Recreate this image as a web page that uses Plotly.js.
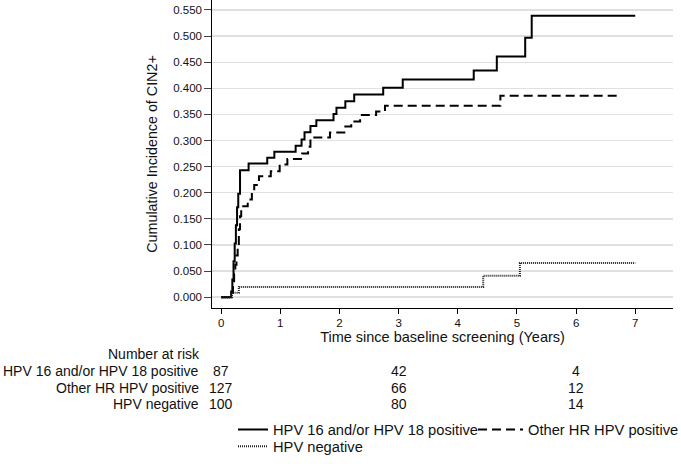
<!DOCTYPE html>
<html>
<head>
<meta charset="utf-8">
<script src="https://cdn.plot.ly/plotly-3.0.1.min.js"></script>
<style>html,body{margin:0;padding:0;background:#fff;}#chart{width:681px;height:464px;}</style>
</head>
<body>
<div id="chart"></div>
<script>
// ---- Data ----
const groupNames = ["HPV 16 and/or HPV 18 positive", "Other HR HPV positive", "HPV negative"];

const timeHPV1618 = [0, 0.17, 0.19, 0.21, 0.23, 0.25, 0.27, 0.29, 0.32, 0.465, 0.78, 0.90, 1.26, 1.36, 1.41, 1.51, 1.61, 1.90, 1.95, 2.10, 2.25, 2.74, 3.07, 4.27, 4.66, 5.14, 5.25, 7.0];
const cumHPV1618  = [0, 0.011, 0.034, 0.069, 0.103, 0.138, 0.172, 0.198, 0.243, 0.256, 0.267, 0.2785, 0.290, 0.302, 0.316, 0.3276, 0.339, 0.351, 0.363, 0.375, 0.388, 0.401, 0.417, 0.434, 0.461, 0.497, 0.539, 0.539];

const timeOtherHR = [0, 0.18, 0.20, 0.22, 0.24, 0.26, 0.28, 0.30, 0.32, 0.34, 0.45, 0.52, 0.56, 0.64, 0.84, 0.99, 1.12, 1.37, 1.47, 1.51, 1.84, 2.10, 2.20, 2.35, 2.62, 2.77, 4.72, 6.69];
const cumOtherHR  = [0, 0.008, 0.025, 0.045, 0.062, 0.08, 0.10, 0.13, 0.155, 0.174, 0.187, 0.20, 0.215, 0.2314, 0.241, 0.254, 0.2646, 0.275, 0.288, 0.306, 0.3156, 0.327, 0.3365, 0.349, 0.3556, 0.3665, 0.3857, 0.3857];

const timeNeg = [0, 0.184, 0.30, 4.43, 5.05, 7.0];
const cumNeg  = [0, 0.0086, 0.0197, 0.041, 0.0655, 0.0655];

const riskTimes   = [0, 3, 6];
const riskHPV1618 = [87, 42, 4];
const riskOtherHR = [127, 66, 12];
const riskNeg     = [100, 80, 14];
const riskTitle = "Number at risk";

const xTicks = [0, 1, 2, 3, 4, 5, 6, 7];

// ---- Chart ----
const FONT = "Liberation Sans, Arial, Helvetica, sans-serif";
const TXT = "#111";

const traces = [
  {x: timeHPV1618, y: cumHPV1618, name: groupNames[0], type: "scatter", mode: "lines",
   line: {shape: "hv", color: "#000", width: 2}, legend: "legend"},
  {x: timeOtherHR, y: cumOtherHR, name: groupNames[1], type: "scatter", mode: "lines",
   line: {shape: "hv", color: "#000", width: 2, dash: "9px,5px"}, legend: "legend2"},
  {x: timeNeg, y: cumNeg, name: groupNames[2], type: "scatter", mode: "lines",
   line: {shape: "hv", color: "#222", width: 2, dash: "1px,1px"}, legend: "legend3"}
];

const W = 681, H = 464;
const plotLeft = 211.7, plotRight = 673, plotTop = 0, plotBottom = 308.5;
function paperY(px) { return (plotBottom - px) / (plotBottom - plotTop); }
function paperX(px) { return (px - plotLeft) / (plotRight - plotLeft); }

const annotations = [];
annotations.push({xref: "paper", yref: "paper", x: paperX(201.5), y: paperY(355), text: riskTitle,
  showarrow: false, xanchor: "right", yanchor: "middle", font: {family: FONT, size: 14, color: TXT}});
const riskRows = [riskHPV1618, riskOtherHR, riskNeg];
const rowY = [371.7, 388.3, 405];
riskRows.forEach((row, r) => {
  annotations.push({xref: "paper", yref: "paper", x: paperX(200.5), y: paperY(rowY[r]), text: groupNames[r],
    showarrow: false, xanchor: "right", yanchor: "middle", font: {family: FONT, size: 14, color: TXT}});
  row.forEach((v, i) => {
    annotations.push({xref: "x", yref: "paper", x: riskTimes[i], y: paperY(rowY[r]), text: String(v),
      showarrow: false, xanchor: "center", yanchor: "middle", font: {family: FONT, size: 14, color: TXT}});
  });
});

const legendBase = {orientation: "h", xref: "container", yref: "container", xanchor: "left", yanchor: "middle",
  bgcolor: "rgba(0,0,0,0)", borderwidth: 0, font: {family: FONT, size: 14.7, color: TXT}};

const layout = {
  width: W, height: H,
  margin: {l: plotLeft, r: W - plotRight, t: plotTop, b: H - plotBottom, pad: 0, autoexpand: false},
  paper_bgcolor: "#fff", plot_bgcolor: "#fff",
  font: {family: FONT, color: TXT},
  showlegend: true,
  legend:  Object.assign({}, legendBase, {x: 233 / W, y: (H - 430) / H}),
  legend2: Object.assign({}, legendBase, {x: 473 / W, y: (H - 430) / H, itemwidth: 45}),
  legend3: Object.assign({}, legendBase, {x: 233 / W, y: (H - 446.7) / H}),
  xaxis: {
    range: [-0.1537, 7.638], tickvals: xTicks, ticks: "outside", ticklen: 4.5, tickcolor: "#000", tickwidth: 1,
    showline: true, linecolor: "#000", linewidth: 1, showgrid: false, zeroline: false,
    tickfont: {family: FONT, size: 11.5, color: TXT},
    title: {text: "Time since baseline screening (Years)", font: {family: FONT, size: 14.5, color: TXT}, standoff: 0},
    automargin: false
  },
  yaxis: {
    range: [-0.0207, 0.5691], dtick: 0.05, tick0: 0, tickformat: ".3f", ticks: "outside", ticklen: 6.7,
    tickcolor: "#444", tickwidth: 1, showline: true, linecolor: "#000", linewidth: 1,
    showgrid: true, gridcolor: "#e0e0e0", gridwidth: 1.4, zeroline: false,
    tickfont: {family: FONT, size: 11.5, color: TXT},
    title: {text: "Cumulative Incidence of CIN2+", font: {family: FONT, size: 14.3, color: TXT}, standoff: 12},
    automargin: false
  },
  annotations: annotations
};

Plotly.newPlot("chart", traces, layout, {displayModeBar: false, staticPlot: true});
</script>
</body>
</html>
